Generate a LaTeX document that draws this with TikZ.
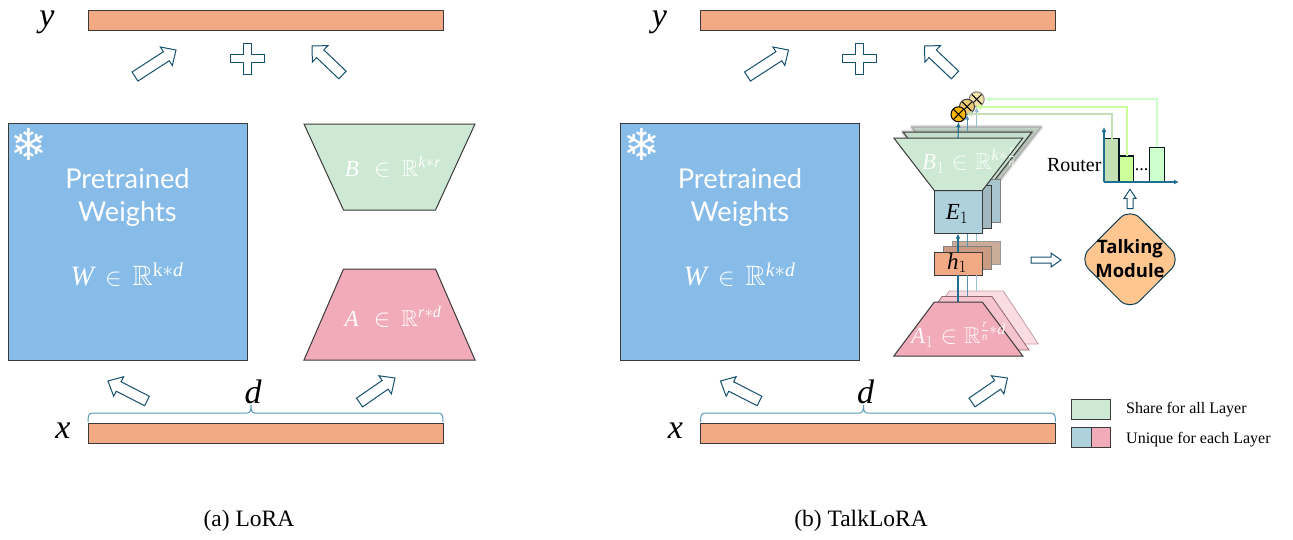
\documentclass[tikz,border=0pt]{standalone}
\usepackage{amsmath,amssymb}
\usepackage{fontspec}
\setmainfont{Liberation Serif}
\newfontfamily\aptosf{Lato}
\newfontfamily\talkf{Open Sans}
\newfontfamily\dejavuf{DejaVu Sans}
\usetikzlibrary{calc,shapes.geometric,arrows.meta}
\definecolor{cblue}{HTML}{87BCE9}
\definecolor{cgreen}{HTML}{CDE8D3}
\definecolor{cpink}{HTML}{F2ABB8}
\definecolor{corange}{HTML}{F2AA84}
\definecolor{cteal}{HTML}{AFD0DD}
\definecolor{cdark}{HTML}{3A3A3A}
\definecolor{cnavy}{HTML}{15506E}
\definecolor{clink}{HTML}{1F6F93}
\definecolor{cbrace}{HTML}{5B9BB5}
\definecolor{cbarA}{HTML}{C5E0B4}
\definecolor{cbarB}{HTML}{CCFF99}
\definecolor{cbarC}{HTML}{CCFFCC}
\definecolor{cmultA}{HTML}{FFB800}
\definecolor{cmultB}{HTML}{EBC873}
\definecolor{cmultC}{HTML}{F3DFA8}
\definecolor{ctalk}{HTML}{FFC78F}
\newcommand\fsz[1]{\fontsize{#1}{#1}\selectfont}
\newcommand\fszb[2]{\fontsize{#1}{#2}\selectfont}
\newcommand\mi[1]{\text{\itshape #1}}
\newcommand\rectnode[7]{%
  \pgfmathsetmacro\rnw{#5-#3}\pgfmathsetmacro\rnh{#6-#4}%
  \pgfmathsetmacro\rnx{(#5+#3)/2}\pgfmathsetmacro\rny{(#6+#4)/2}%
  \node[#2,minimum width=\rnw pt,minimum height=\rnh pt] (#1) at (\rnx,\rny) {#7};}
\newcommand\blockarr[5]{%
  \coordinate (ba-h) at ($(#2)!#5!(#1)$);
  \draw[blockarrow] ($(#1)!#3!90:(#2)$) -- ($(ba-h)!#3!90:(#2)$) -- ($(ba-h)!#4!90:(#2)$) -- (#2)
    -- ($(ba-h)!#4!-90:(#2)$) -- ($(ba-h)!#3!-90:(#2)$) -- ($(#1)!#3!-90:(#2)$) -- cycle;}
\newcommand\trap[5]{%
  \draw[#1] (\tc-#4,#2) -- (\tc+#4,#2) -- (\tc+#5,#3) -- (\tc-#5,#3) -- cycle;}
\tikzset{
  x=1pt,y=-1pt,
  box/.style={draw=cdark,line width=1pt,inner sep=0pt,outer sep=0pt,rectangle},
  shape line/.style={draw=cdark,line width=1pt,line join=miter},
  blockarrow/.style={draw=cnavy,fill=white,line width=1pt,line join=miter},
  softshadow/.style={preaction={draw=gray,opacity=.15,line width=5pt,line join=round},preaction={draw=gray,opacity=.25,line width=3pt,line join=round}},
  whitetext/.style={text=white,inner sep=0pt},
  link/.style={draw=clink,line width=1.1pt,-{Latex[length=5pt,width=5pt]}},
  linkb/.style={draw=clink!75!white,line width=1pt,-{Latex[length=5pt,width=5pt]}},
  linkc/.style={draw=clink!45!white,line width=.8pt,-{Latex[length=5pt,width=5pt]}},
  mult/.style={circle,draw=black,line width=1pt,fill=#1,minimum size=15pt,inner sep=0pt,
    path picture={\draw[black,line width=1pt] (path picture bounding box.north west)--(path picture bounding box.south east)
      (path picture bounding box.north east)--(path picture bounding box.south west);}},
  route/.style={draw=#1,line width=1.7pt,-{Latex[length=6pt,width=6pt]}},
  bar/.style={box,draw=black!70!cnavy,line width=1.1pt,fill=#1},
}
\begin{document}
\begin{tikzpicture}
\useasboundingbox (0,0) rectangle (1293,539);

% shared parts of both panels
\foreach \p/\ox in {a/0,b/612.5}{
\begin{scope}[xshift=\ox pt]
  \rectnode{\p-ybar}{box,fill=corange}{88}{10}{443}{30}{}
  \rectnode{\p-xbar}{box,fill=corange}{88}{423}{443}{443}{}
  \node[inner sep=0pt,font=\fsz{34}\itshape] (\p-ylab) at (47,22) {y};
  \node[inner sep=0pt,font=\fsz{34}\itshape] (\p-xlab) at (63,431) {x};
  \node[inner sep=0pt,font=\fsz{34}\itshape] (\p-dlab) at (253,392) {d};
  \rectnode{\p-pre}{box,fill=cblue}{8}{123}{247}{360}{}
  \node[whitetext,align=center,font=\aptosf\fszb{27.3}{33}] (\p-ptext) at (127.5,197) {Pretrained\\Weights};
  \node[text=white,inner sep=0pt,font=\dejavuf\fsz{44}] (\p-snow) at (29,144) {^^^^2744};
  \draw[cbrace,line width=1pt] (88,422) .. controls (88,415) and (89,413) .. (93,413) -- (247,413)
    .. controls (250,413) and (251,411) .. (251,405) .. controls (251,411) and (252,413) .. (255,413)
    -- (438,413) .. controls (442,413) and (443,415) .. (443,422);
  \blockarr{135,76.5}{176,50}{5.4pt}{11pt}{11.5pt}
  \blockarr{342.5,75}{312,46}{5.3pt}{11.3pt}{11.3pt}
  \blockarr{147,401}{108,381}{5.3pt}{11pt}{12pt}
  \blockarr{359.5,402.5}{395,378}{5.3pt}{11pt}{12pt}
  \draw[blockarrow] (243,43) -- (251,43) -- (251,54) -- (264,54) -- (264,62) -- (251,62) -- (251,74)
    -- (243,74) -- (243,62) -- (230,62) -- (230,54) -- (243,54) -- cycle;
\end{scope}}

\node[whitetext,font=\fsz{28}] (a-w) at (127,275) {$\mi{W}\,\in\,\mathbb{R}^{\mathrm{k}*\mi{d}}$};
\node[whitetext,font=\fsz{28}] (b-w) at (739.5,275) {$\mi{W}\,\in\,\mathbb{R}^{\mi{k}*\mi{d}}$};

% LoRA factor blocks
\def\tc{389.5}
\trap{shape line,fill=cgreen}{124}{210}{85.5}{46}
\trap{shape line,fill=cpink}{269}{360}{46}{85.5}
\node[whitetext,font=\fsz{23}] (a-b) at (393,167) {$\mi{B}\,\,\in\,\mathbb{R}^{\mi{k}*\mi{r}}$};
\node[whitetext,font=\fsz{23}] (a-a) at (393,317) {$\mi{A}\,\,\in\,\mathbb{R}^{\mi{r}*\mi{d}}$};

% TalkLoRA back layers
\def\tc{976.3}
\trap{draw=gray!70,line width=1pt,softshadow,fill=cgreen!70!gray!85!white}{127}{179}{64.5}{24}
\def\tc{967.5}
\trap{shape line,softshadow,fill=cgreen!90!gray}{132}{184}{64.5}{24}
\rectnode{e3}{box,draw=gray,fill=cteal!85!gray}{952}{179.7}{1000}{222.7}{}
\rectnode{e2}{box,fill=cteal!70!gray}{943.5}{185.2}{991.5}{228.2}{}
\rectnode{h3}{box,draw=gray!80,fill=corange!55!gray!80!white}{952}{241}{1000}{264}{}
\rectnode{h2}{box,draw=gray,fill=corange!65!gray}{943}{246.5}{991}{269.5}{}
\def\tc{976.3}
\trap{draw=cpink!60!gray,line width=.8pt,fill=cpink!40!white}{291}{344}{27}{62}
\def\tc{967}
\trap{draw=cpink!60!black,line width=.8pt,fill=cpink!70!white}{296.5}{350}{25}{62}

% circled crosses
\node[mult=cmultC,draw=gray] (m3) at (976.7,99.3) {};
\node[mult=cmultB,draw=gray!50!black] (m2) at (967,106.7) {};
\node[mult=cmultA] (m1) at (958.5,114.3) {};

% TalkLoRA front layers
\def\tc{958.3}
\coordinate (a1top) at (958,302);
\coordinate (a2top) at (967,296.5);
\coordinate (a3top) at (976.7,291);
\coordinate (b2top) at (967,132);
\coordinate (b3top) at (976.7,127);
\rectnode{h1}{box,fill=corange}{934}{252}{982}{275}{}
\rectnode{e1}{box,fill=cteal}{934}{190.5}{982}{233.7}{}
\node[inner sep=0pt,font=\fsz{23}] (h1lab) at (957,263) {$\mi{h}_1$};
\node[inner sep=0pt,font=\fsz{23}] (e1lab) at (957,214) {$\mi{E}_1$};
\coordinate (h1t) at (958,252);
\coordinate (h1b) at (958,275);
\coordinate (e1b) at (958,233.7);
\draw[linkc,-] (a3top) -- (976.7,275);
\draw[linkb,-] (a2top) -- (967,275);
\draw[link,-] (a1top) -- (h1b);
\draw[link] (h1t) -- (e1b);
\draw[linkc,-] (976.7,241) -- (976.7,233.7);
\draw[linkb,-] (967,246.5) -- (967,233.7);
\trap{shape line,fill=cgreen}{138}{190.5}{64.5}{24}
\trap{shape line,fill=cpink}{302}{356}{24}{64.5}
\coordinate (b1top) at (958,138);
\draw[link] (b1top) -- (m1.south);
\draw[linkb] (b2top) -- (m2.south);
\draw[linkc] (b3top) -- (m3.south);
\node[whitetext,opacity=.9,font=\fsz{23},anchor=west] (b1lab) at (922,161) {$\mi{B}_1\in\mathbb{R}^{\mi{k}*\frac{\mi{r}}{\mi{n}}}$};
\node[whitetext,opacity=.9,font=\fsz{23},anchor=west] (a1lab) at (911,335) {$\mi{A}_1\in\mathbb{R}^{\frac{\mi{r}}{\mi{n}}*\mi{d}}$};

% router chart
\rectnode{bar1}{bar=cbarA}{1104.7}{138.7}{1119}{182}{}
\rectnode{bar2}{bar=cbarB}{1119.7}{156}{1133.7}{182}{}
\rectnode{bar3}{bar=cbarC}{1149.7}{147.3}{1164.3}{182}{}
\coordinate (axo) at (1104,182);
\coordinate (axy) at (1104,127);
\coordinate (axx) at (1179,182);
\draw[link] (axo) -- (axy);
\draw[link] (axo) -- (axx);
\node[inner sep=0pt,anchor=east,font=\fsz{20}] (router) at (1101.7,165) {Router};
\node[inner sep=0pt,font=\fsz{18}] (dots) at (1141.7,170) {...};
\draw[route=cbarA] (bar1.north) |- (966,113.7);
\draw[route=cbarB] (bar2.north) |- (975,107);
\draw[route=cbarC] (bar3.north) |- (984.5,99.3);

% talking module
\draw[draw=cnavy!80!black,line width=1pt,fill=ctalk,rounded corners=14pt]
  (1130,208) -- (1181,259.3) -- (1130,310.6) -- (1079,259.3) -- cycle;
\node[inner sep=0pt,align=center,font=\talkf\bfseries\fszb{18.5}{24.5}] (talk) at (1130,258.5) {Talking\\Module};
\blockarr{1130,208.7}{1130,189.3}{3pt}{6pt}{9pt}
\blockarr{1031,260}{1061,260}{3pt}{7pt}{10pt}

% legend
\rectnode{l1}{box,fill=cgreen}{1071.7}{399.3}{1110.7}{419.3}{}
\rectnode{l2}{box,fill=cteal}{1071.7}{427.3}{1091.2}{447.3}{}
\rectnode{l3}{box,fill=cpink}{1091.2}{427.3}{1110.7}{447.3}{}
\node[inner sep=0pt,anchor=west,font=\fsz{16}] (lt1) at (1126,410) {Share for all Layer};
\node[inner sep=0pt,anchor=west,font=\fsz{16}] (lt2) at (1126,439.5) {Unique for each Layer};

% captions
\node[inner sep=0pt,font=\fsz{23.5}] (cap-a) at (249,521) {(a) LoRA};
\node[inner sep=0pt,font=\fsz{23.5}] (cap-b) at (861,521) {(b) TalkLoRA};
\end{tikzpicture}
\end{document}
